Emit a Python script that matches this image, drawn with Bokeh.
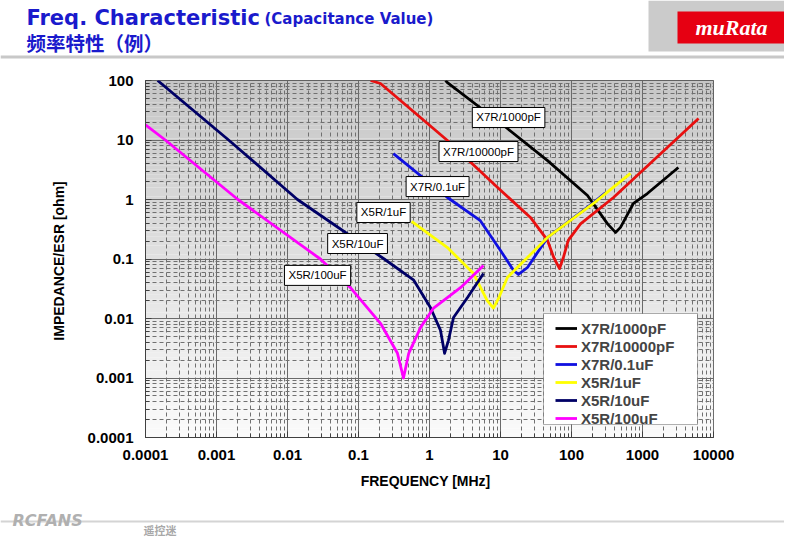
import numpy as np
from bokeh.plotting import figure
from bokeh.layouts import column
from bokeh.models import FixedTicker, Label, BoxAnnotation, Legend, LegendItem, Range1d
from bokeh.core.properties import value
from bokeh.embed import file_html
from bokeh.resources import INLINE

# ---------------- data ----------------
x_ticks = [0.0001, 0.001, 0.01, 0.1, 1, 10, 100, 1000, 10000]
x_tick_labels = ["0.0001", "0.001", "0.01", "0.1", "1", "10", "100", "1000", "10000"]
y_ticks = [0.0001, 0.001, 0.01, 0.1, 1, 10, 100]
y_tick_labels = ["0.0001", "0.001", "0.01", "0.1", "1", "10", "100"]

series_names = ["X7R/1000pF", "X7R/10000pF", "X7R/0.1uF", "X5R/1uF", "X5R/10uF", "X5R/100uF"]
series_colors = ["#000000", "#e81010", "#1010e0", "#ffff00", "#000066", "#ff00ff"]

x7r_1000pf_freq = [1.68, 1.79, 12.5, 46, 168, 322, 417, 490, 746, 1170, 3200]
x7r_1000pf_z = [100, 92, 15.6, 4.5, 1.17, 0.39, 0.28, 0.34, 0.86, 1.26, 3.45]

x7r_10000pf_freq = [0.148, 0.204, 1.79, 9.1, 26.4, 46, 56, 67.8, 77, 90, 134, 390, 6160]
x7r_10000pf_z = [100, 89, 9.8, 1.59, 0.50, 0.205, 0.107, 0.069, 0.107, 0.205, 0.39, 1.08, 23]

x7r_01uf_freq = [0.31, 1.79, 5.2, 10, 15.3, 17.9, 24, 46, 204, 300]
x7r_01uf_z = [5.9, 1.08, 0.44, 0.139, 0.064, 0.055, 0.072, 0.23, 0.89, 1.3]

x5r_1uf_freq = [0.56, 1.79, 4.17, 6.5, 7.96, 9.5, 12.5, 24, 46, 204, 677]
x5r_1uf_z = [0.43, 0.156, 0.057, 0.020, 0.015, 0.0225, 0.049, 0.106, 0.23, 0.86, 2.74]

x5r_10uf_freq = [1.48e-4, 1.48e-3, 0.0138, 0.23, 0.60, 1.03, 1.43, 1.63, 1.85, 2.18, 3.43, 5.76]
x5r_10uf_z = [100, 10, 1.0, 0.1, 0.044, 0.0153, 0.0063, 0.0026, 0.0043, 0.0104, 0.0225, 0.057]

x5r_100uf_freq = [1e-4, 1.9e-4, 2.0e-3, 0.029, 0.077, 0.204, 0.354, 0.43, 0.51, 0.75, 1.14, 1.57, 2.73, 5.76]
x5r_100uf_z = [18, 10, 1.0, 0.1, 0.033, 0.0083, 0.0026, 0.001, 0.0026, 0.0071, 0.015, 0.020, 0.033, 0.078]

curve_freqs = [x7r_1000pf_freq, x7r_10000pf_freq, x7r_01uf_freq, x5r_1uf_freq, x5r_10uf_freq, x5r_100uf_freq]
curve_zs = [x7r_1000pf_z, x7r_10000pf_z, x7r_01uf_z, x5r_1uf_z, x5r_10uf_z, x5r_100uf_z]

# callout label anchor positions (data coordinates)
callout_x = [13.0, 4.9, 1.30, 0.225, 0.097, 0.0265]
callout_y = [23.9, 6.4, 1.65, 0.605, 0.182, 0.053]

title_main = "Freq. Characteristic"
title_sub = "(Capacitance Value)"
title_cn = "频率特性（例）"
logo_text = "muRata"

# ---------------- layout ----------------
W = 784
HEAD_H = 60
MAIN_H = 440
FOOT_H = 37
FL, FR, FT, FB = 145, 713, 80, 437  # frame edges, page px


def blank(height):
    f = figure(width=W, height=height, x_range=Range1d(0, W), y_range=Range1d(height, 0),
               output_backend="svg", toolbar_location=None,
               x_axis_location=None, y_axis_location=None,
               min_border=0, min_border_left=0, min_border_right=0,
               min_border_top=0, min_border_bottom=0)
    f.grid.visible = False
    f.outline_line_color = None
    f.background_fill_color = "#ffffff"
    f.border_fill_color = "#ffffff"
    f.frame_align = False
    return f


# header
head = blank(HEAD_H)
head.quad(left=[648], right=[W], top=[0], bottom=[51], fill_color="#cbcbcb", line_color=None)
head.quad(left=[0], right=[W], top=[55], bottom=[58], fill_color="#c8c8c8", line_color=None)
head.quad(left=[677], right=[788], top=[11], bottom=[43], fill_color="#e60012", line_color=None)
head.text(x=[731], y=[27], text=[logo_text], text_align="center", text_baseline="middle",
          text_color="#ffffff", text_font=value("Liberation Serif"), text_font_style="bold italic",
          text_font_size="22px")
head.text(x=[26], y=[17], text=[title_main], text_baseline="middle", text_color="#1a1acc",
          text_font=value("DejaVu Sans"), text_font_style="bold", text_font_size="21px")
head.text(x=[264], y=[18], text=[title_sub], text_baseline="middle", text_color="#1a1acc",
          text_font=value("DejaVu Sans"), text_font_style="bold", text_font_size="15px")
head.text(x=[26], y=[42], text=[title_cn], text_baseline="middle", text_color="#1a1acc",
          text_font=value("Noto Sans CJK SC"), text_font_style="bold", text_font_size="19.5px")

# main chart
x_lo, x_hi = x_ticks[0], x_ticks[-1]
y_lo, y_hi = y_ticks[0], y_ticks[-1]

p = figure(width=W, height=MAIN_H, x_axis_type="log", y_axis_type="log",
           x_range=Range1d(x_lo, x_hi), y_range=Range1d(y_lo, y_hi),
           output_backend="svg", toolbar_location=None,
           min_border_left=FL, min_border_right=W - FR,
           min_border_top=FT - HEAD_H, min_border_bottom=HEAD_H + MAIN_H - FB)
p.frame_align = False
p.background_fill_color = "#ffffff"
p.border_fill_color = "#ffffff"
p.outline_line_color = "#404040"
p.outline_line_width = 1

# vertical gradient background for the plot area
n_bands = 80
edges = np.logspace(np.log10(y_lo), np.log10(y_hi), n_bands + 1)
band_cols = []
for i in range(n_bands):
    t = i / (n_bands - 1)
    g = int(round(250 - t * (250 - 198)))
    band_cols.append("#%02x%02x%02x" % (g, g, g))
p.quad(left=x_lo, right=x_hi, bottom=edges[:-1], top=edges[1:],
       fill_color=band_cols, line_color=None, level="image")

x_minor = [m * 10.0 ** k for k in range(-4, 4) for m in range(2, 10)]
y_minor = [m * 10.0 ** k for k in range(-4, 2) for m in range(2, 10)]
xt = FixedTicker(ticks=x_ticks, minor_ticks=x_minor)
yt = FixedTicker(ticks=y_ticks, minor_ticks=y_minor)
p.xaxis.ticker = xt
p.yaxis.ticker = yt
p.xgrid.ticker = xt
p.ygrid.ticker = yt
p.xaxis.major_label_overrides = dict(zip(x_ticks, x_tick_labels))
p.yaxis.major_label_overrides = dict(zip(y_ticks, y_tick_labels))

for g in (p.xgrid, p.ygrid):
    g.grid_line_color = "#6a6a6a"
    g.grid_line_width = 1
    g.minor_grid_line_color = "#707070"
    g.minor_grid_line_width = 1
    g.minor_grid_line_dash = "4 3"

for ax in (p.xaxis, p.yaxis):
    ax.axis_line_color = "#404040"
    ax.major_tick_in = 6
    ax.major_tick_out = 0
    ax.minor_tick_in = 4
    ax.minor_tick_out = 0
    ax.major_tick_line_color = "#404040"
    ax.minor_tick_line_color = "#404040"
    ax.major_label_text_font = "Liberation Sans"
    ax.major_label_text_font_style = "bold"
    ax.major_label_text_font_size = "15px"
    ax.major_label_text_color = "#000000"
    ax.axis_label_text_font = "Liberation Sans"
    ax.axis_label_text_font_style = "bold"
    ax.axis_label_text_font_size = "14px"
    ax.axis_label_text_color = "#000000"

p.xaxis.axis_label = "FREQUENCY   [MHz]"
p.yaxis.axis_label = "IMPEDANCE/ESR  [ohm]"
p.xaxis.major_label_standoff = 12
p.yaxis.major_label_standoff = 12
p.xaxis.axis_label_standoff = 10
p.yaxis.axis_label_standoff = 18

# curves
renderers = []
for f, z, c in zip(curve_freqs, curve_zs, series_colors):
    r = p.line(f, z, line_color=c, line_width=2.8, line_join="round")
    renderers.append(r)

# callouts
for name, cx, cy in zip(series_names, callout_x, callout_y):
    p.add_layout(Label(x=cx, y=cy, text=name, text_align="center", text_baseline="middle",
                       text_font="Liberation Sans", text_font_size="11.5px", text_color="#000000",
                       background_fill_color="#ffffff", border_line_color="#000000",
                       border_line_width=1, padding=4))

# legend frame + legend (screen units relative to the frame)
p.add_layout(BoxAnnotation(left=543 - FL, right=697 - FL, bottom=FB - 424, top=FB - 313,
                           left_units="screen", right_units="screen",
                           top_units="screen", bottom_units="screen",
                           fill_color="#ffffff", fill_alpha=1, line_color="#000000", line_width=1))
legend = Legend(items=[LegendItem(label=n, renderers=[r]) for n, r in zip(series_names, renderers)],
                location=(555 - FL, FB - 427), padding=5, spacing=0, margin=0,
                glyph_width=22, glyph_height=18, label_height=18, label_width=95,
                label_standoff=4, label_text_font="Liberation Sans", label_text_font_style="bold",
                label_text_font_size="15px", border_line_color=None, background_fill_alpha=0)
p.add_layout(legend)

# footer watermark
foot = blank(FOOT_H)
foot.quad(left=[0], right=[W], top=[20], bottom=[22], fill_color="#d4d4d4", line_color=None)
foot.text(x=[12], y=[20], text=["RCFANS"], text_baseline="middle", text_color="#b0b0b0",
          text_font=value("DejaVu Sans"), text_font_style="bold italic", text_font_size="16px")
foot.text(x=[143], y=[29], text=["遥控迷"], text_baseline="middle", text_color="#a8a8a8",
          text_font=value("Noto Sans CJK SC"), text_font_style="bold", text_font_size="11px")

layout = column(head, p, foot, spacing=0)
open("out.html", "w").write(file_html(layout, INLINE))
